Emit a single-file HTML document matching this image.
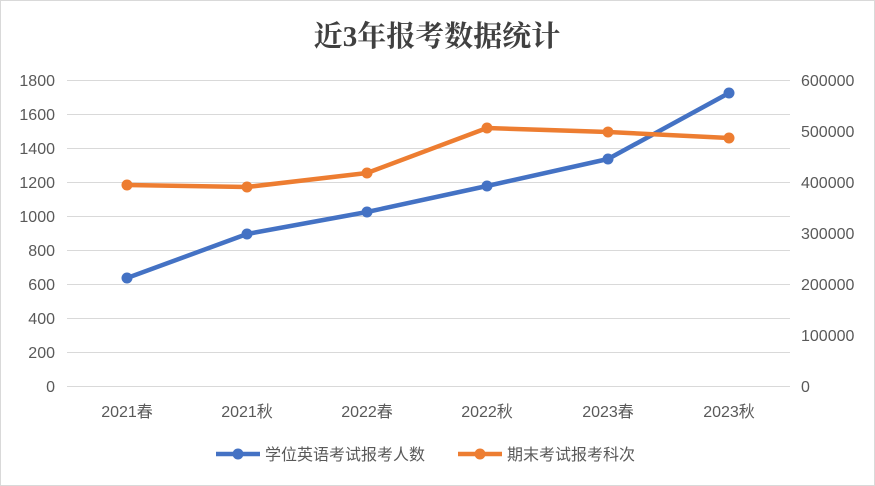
<!DOCTYPE html>
<html><head><meta charset="utf-8"><style>
html,body{margin:0;padding:0;background:#fff;}
svg{display:block}
text{font-family:"Liberation Sans","Noto Sans CJK SC",sans-serif;fill:#595959;font-size:16px}
</style></head><body>
<svg width="875" height="486" viewBox="0 0 875 486" xmlns="http://www.w3.org/2000/svg">
<rect x="0.5" y="0.5" width="874" height="485" fill="#fff" stroke="#d9d9d9"/>
<text x="437" y="46" text-anchor="middle" style="font-size:29px;font-weight:bold;fill:#404040;font-family:'Liberation Serif','Noto Serif CJK SC',serif">近3年报考数据统计</text>
<g stroke="#d9d9d9" stroke-width="1">
<line x1="67" y1="80.5" x2="790" y2="80.5"/><line x1="67" y1="114.5" x2="790" y2="114.5"/>
<line x1="67" y1="148.5" x2="790" y2="148.5"/><line x1="67" y1="182.5" x2="790" y2="182.5"/>
<line x1="67" y1="216.5" x2="790" y2="216.5"/><line x1="67" y1="250.5" x2="790" y2="250.5"/>
<line x1="67" y1="284.5" x2="790" y2="284.5"/><line x1="67" y1="318.5" x2="790" y2="318.5"/>
<line x1="67" y1="352.5" x2="790" y2="352.5"/><line x1="67" y1="386.5" x2="790" y2="386.5"/>
</g>
<g text-anchor="end">
<text x="55" y="86">1800</text><text x="55" y="120">1600</text><text x="55" y="154">1400</text>
<text x="55" y="188">1200</text><text x="55" y="222">1000</text><text x="55" y="256">800</text>
<text x="55" y="290">600</text><text x="55" y="324">400</text><text x="55" y="358">200</text>
<text x="55" y="392">0</text>
</g>
<g text-anchor="start">
<text x="801" y="86">600000</text><text x="801" y="137">500000</text><text x="801" y="188">400000</text>
<text x="801" y="239">300000</text><text x="801" y="290">200000</text><text x="801" y="341">100000</text>
<text x="801" y="392">0</text>
</g>
<g text-anchor="middle">
<text x="127" y="417">2021春</text><text x="247" y="417">2021秋</text><text x="367" y="417">2022春</text>
<text x="487" y="417">2022秋</text><text x="608" y="417">2023春</text><text x="729" y="417">2023秋</text>
</g>
<polyline points="127,278 247,234 367,212 487,186 608,159 729,93" fill="none" stroke="#4472c4" stroke-width="4.5" stroke-linejoin="round"/>
<g fill="#4472c4"><circle cx="127" cy="278" r="5.5"/><circle cx="247" cy="234" r="5.5"/><circle cx="367" cy="212" r="5.5"/><circle cx="487" cy="186" r="5.5"/><circle cx="608" cy="159" r="5.5"/><circle cx="729" cy="93" r="5.5"/></g>
<polyline points="127,185 247,187 367,173 487,128 608,132 729,138" fill="none" stroke="#ed7d31" stroke-width="4.5" stroke-linejoin="round"/>
<g fill="#ed7d31"><circle cx="127" cy="185" r="5.5"/><circle cx="247" cy="187" r="5.5"/><circle cx="367" cy="173" r="5.5"/><circle cx="487" cy="128" r="5.5"/><circle cx="608" cy="132" r="5.5"/><circle cx="729" cy="138" r="5.5"/></g>
<line x1="216" y1="454" x2="260" y2="454" stroke="#4472c4" stroke-width="4.5"/><circle cx="238" cy="454" r="5.5" fill="#4472c4"/>
<text x="265" y="460">学位英语考试报考人数</text>
<line x1="458" y1="454" x2="502" y2="454" stroke="#ed7d31" stroke-width="4.5"/><circle cx="480" cy="454" r="5.5" fill="#ed7d31"/>
<text x="507" y="460">期末考试报考科次</text>
</svg>
</body></html>
